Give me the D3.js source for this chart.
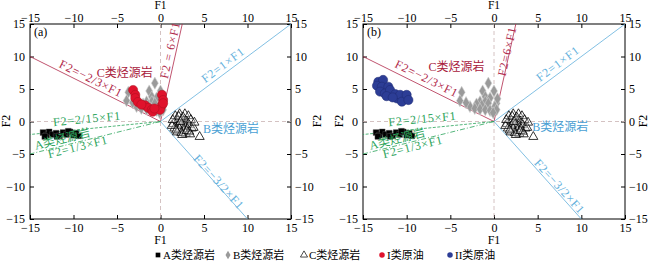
<!DOCTYPE html>
<html>
<head>
<meta charset="utf-8">
<script src="https://cdn.jsdelivr.net/npm/d3@7"></script>
<style>
  body { margin: 0; background: #fff; }
  svg { display: block; font-family: "Liberation Serif", "Noto Sans CJK SC", serif; }
</style>
</head>
<body>
<svg id="chart" width="650" height="262"></svg>
<script>
// ticks
const ticks = [-15, -10, -5, 0, 5, 10, 15]

// A类烃源岩 (squares)
const srcA = [[-13.5,-1.7],[-13.1,-2.1],[-12.8,-1.6],[-12.4,-2.0],[-12.0,-1.8],[-11.6,-2.2],[-11.2,-1.7],
  [-10.8,-2.0],[-10.4,-1.6],[-10.0,-2.1],[-9.7,-1.8],[-9.4,-2.2],[-11.9,-2.3],[-13.3,-2.3],[-10.6,-1.5]]
// B类烃源岩 (diamonds)
const srcB = [[-0.65,5.9],[-3.7,4.5],[-1.3,4.7],[0.0,4.7],[-1.0,3.8],[-0.45,3.6],[-3.9,3.2],[-1.6,3.05],
  [-1.0,3.05],[-2.0,2.7],[-1.4,2.5],[-0.65,2.8],[0.3,2.8],[-2.75,2.3],[-2.2,2.0],[-1.6,1.9],[-1.0,1.8],
  [-0.45,1.7],[0.1,2.3],[0.3,1.8],[-0.1,1.35],[-3.2,2.9],[0.4,3.5]]
// C类烃源岩 (triangles)
const srcC = [[1.7,1.0],[2.2,1.3],[2.8,1.3],[3.2,1.0],[2.0,0.3],[2.5,0.5],[3.0,0.2],[3.5,0.4],[1.5,-0.2],
  [2.0,-0.5],[2.4,-0.3],[2.8,-0.6],[3.3,-0.4],[1.6,-0.9],[2.2,-1.0],[2.7,-1.2],[3.1,-1.0],[3.6,-0.9],
  [1.9,-1.5],[2.4,-1.6],[2.9,-1.7],[3.3,-1.4],[3.8,-0.8],[4.5,-2.2],[2.1,0.9],[2.6,0.8],[1.3,-0.5],[3.9,0.0],
  [1.8,-1.2],[2.5,-1.9],[3.0,-1.3],[2.3,0.1],[3.4,-1.8],[1.4,0.4]]
// I类原油 (panel a)
const oilI = [[-3.15,4.85],[-2.9,4.1],[-2.9,3.6],[-2.6,3.0],[-1.8,2.5],[-1.4,2.1],[-1.0,1.8],[-0.9,1.5],
  [0.17,4.1],[0.3,3.3],[0.17,2.5],[-0.06,1.8],[0.3,2.8],[-2.2,2.6],[-0.7,2.0]]
// II类原油 (panel b)
const oilII = [[-13.25,6.1],[-12.7,6.4],[-13.4,5.5],[-12.85,5.35],[-12.1,5.35],[-13.05,4.6],[-12.5,4.3],
  [-11.9,4.85],[-11.3,4.2],[-11.1,3.55],[-10.75,4.1],[-10.55,3.05],[-10.0,4.1],[-9.8,3.3],[-12.3,3.9],[-11.6,3.7]]

// dividing lines: slope, F1 end
const lineSlopes = [-2/3, 6, 1, -3/2, 2/15, 1/3]
const lineEnds = [-15, 2.5, 15, 10, -15, -15]
const lineNames = ["F2=−2/3×F1", "F2 = 6×F1", "F2=1×F1", "F2=−3/2×F1", "F2=2/15×F1", "F2=1/3×F1"]

const legendNames = ["A类烃源岩", "B类烃源岩", "C类烃源岩", "I类原油", "II类原油"]

const red = "#b0284a", blue = "#62b0dc", green = "#2aa35a"
const lineStyle = [
  {c: red, dash: null}, {c: red, dash: null}, {c: blue, dash: null}, {c: blue, dash: null},
  {c: green, dash: "3,1.5"}, {c: green, dash: "5,2,1,2"}
]

const svg = d3.select("#chart")

const panels = [
  {tag: "(a)", x0: 30, x1: 291, oil: oilI, oilColor: "#e0122c", oilStroke: "#a8101e",
   names: lineNames,
   lab: [[-7.99,6.6],[1.1,11.0],[7.2,8.7],[6.7,-9.3],[-8.45,0.4],[-9.5,-3.9]],
   A: [-11.3,-2.7], B: [8.1,-1.15], C: [-4.1,7.5]},
  {tag: "(b)", x0: 363, x1: 625, oil: oilII, oilColor: "#2c3d96", oilStroke: "#1e2a70",
   names: ["F2=−2/3×F1", "F2=6×F1", "F2=1×F1", "F2=−3/2×F1", "F2=2/15×F1", "F2=1/3×F1"],
   lab: [[-7.7,6.6],[1.5,10.8],[7.3,8.9],[7.5,-10.0],[-8.2,0.4],[-9.3,-3.9]],
   A: [-11.1,-2.7], B: [7.6,-0.85], C: [-4.3,8.4]}
]

const yTop = 24, yBot = 219

panels.forEach(p => {
  const x = d3.scaleLinear().domain([-15, 15]).range([p.x0, p.x1])
  const y = d3.scaleLinear().domain([-15, 15]).range([yBot, yTop])
  const g = svg.append("g")
  const cx = (p.x0 + p.x1) / 2

  g.append("rect").attr("x", p.x0).attr("y", yTop).attr("width", p.x1 - p.x0).attr("height", yBot - yTop)
    .attr("fill", "none").attr("stroke", "#000").attr("stroke-width", 1)

  // axes
  const axes = [
    [d3.axisBottom(x), `translate(0,${yBot})`, 4],
    [d3.axisTop(x), `translate(0,${yTop})`, 2],
    [d3.axisLeft(y), `translate(${p.x0},0)`, 5],
    [d3.axisRight(y), `translate(${p.x1},0)`, 4]
  ]
  axes.forEach(([ax, tr, pad]) => {
    const a = g.append("g").attr("transform", tr)
      .call(ax.tickValues(ticks).tickSizeInner(-4).tickSizeOuter(0).tickPadding(pad).tickFormat(d3.format("d")))
    a.select(".domain").remove()
    a.selectAll("text").attr("font-size", 12).attr("font-family", "Liberation Serif").attr("fill", "#000")
  })

  g.append("text").attr("x", cx).attr("y", 9).attr("text-anchor", "middle").attr("font-size", 11.5).text("F1")
  g.append("text").attr("x", cx).attr("y", 244).attr("text-anchor", "middle").attr("font-size", 12).text("F1")
  g.append("text").attr("transform", `translate(${p.x0 - 20},121) rotate(-90)`)
    .attr("text-anchor", "middle").attr("font-size", 12).text("F2")
  g.append("text").attr("transform", `translate(${Math.min(p.x1 + 30, 647)},121) rotate(-90)`)
    .attr("text-anchor", "middle").attr("font-size", 12).text("F2")

  g.append("text").attr("x", p.x0 + 4).attr("y", yTop + 12).attr("font-size", 12).text(p.tag)

  // zero reference lines
  g.append("line").attr("x1", x(0)).attr("x2", x(0)).attr("y1", yTop).attr("y2", yBot)
    .attr("stroke", "#c9b3b3").attr("stroke-dasharray", "4,3").attr("stroke-width", 0.8)
  g.append("line").attr("x1", p.x0).attr("x2", p.x1).attr("y1", y(0)).attr("y2", y(0))
    .attr("stroke", "#c9b3b3").attr("stroke-dasharray", "4,3").attr("stroke-width", 0.8)

  // dividing lines
  lineSlopes.forEach((k, i) => {
    g.append("line").attr("x1", x(0)).attr("y1", y(0))
      .attr("x2", x(lineEnds[i])).attr("y2", y(k * lineEnds[i]))
      .attr("stroke", lineStyle[i].c).attr("stroke-width", 0.8)
      .attr("stroke-dasharray", lineStyle[i].dash)
  })

  // markers
  const sq = d3.symbol().type(d3.symbolSquare).size(34)
  const dia = d3.symbol().type(d3.symbolDiamond).size(42)
  const tri = d3.symbol().type(d3.symbolTriangle).size(36)

  g.append("g").selectAll("path").data(srcB).join("path")
    .attr("d", dia).attr("transform", d => `translate(${x(d[0])},${y(d[1])})`)
    .attr("fill", "#9a9a9a").attr("stroke", "#d0d0d0").attr("stroke-width", 0.6)
  g.append("g").selectAll("circle").data(p.oil).join("circle")
    .attr("cx", d => x(d[0])).attr("cy", d => y(d[1])).attr("r", 4.6)
    .attr("fill", p.oilColor).attr("stroke", p.oilStroke).attr("stroke-width", 0.5)
  g.append("g").selectAll("path").data(srcA).join("path")
    .attr("d", sq).attr("transform", d => `translate(${x(d[0])},${y(d[1])})`)
    .attr("fill", "#000").attr("stroke", "#555").attr("stroke-width", 0.4)
  g.append("g").selectAll("path").data(srcC).join("path")
    .attr("d", tri).attr("transform", d => `translate(${x(d[0])},${y(d[1]) + 1})`)
    .attr("fill", "#fff").attr("fill-opacity", 0.3).attr("stroke", "#000").attr("stroke-width", 0.8)

  // line labels, rotated along each line
  lineSlopes.forEach((k, i) => {
    const ang = Math.atan((y(k) - y(0)) / (x(1) - x(0))) * 180 / Math.PI
    const [lx, ly] = p.lab[i]
    g.append("text").attr("transform", `translate(${x(lx)},${y(ly)}) rotate(${ang})`)
      .attr("text-anchor", "middle").attr("dominant-baseline", "central")
      .attr("font-size", 12).attr("letter-spacing", 0.8)
      .attr("fill", lineStyle[i].c).text(p.names[i])
  })

  const angA = Math.atan((y(1/3) - y(0)) / (x(1) - x(0))) * 180 / Math.PI
  g.append("text").attr("transform", `translate(${x(p.A[0])},${y(p.A[1])}) rotate(${angA})`)
    .attr("text-anchor", "middle").attr("dominant-baseline", "central").attr("font-size", 12)
    .attr("fill", green).text(legendNames[0])
  g.append("text").attr("x", x(p.B[0])).attr("y", y(p.B[1]))
    .attr("text-anchor", "middle").attr("dominant-baseline", "central").attr("font-size", 12)
    .attr("fill", "#4a9fd4").text(legendNames[1])
  g.append("text").attr("x", x(p.C[0])).attr("y", y(p.C[1]))
    .attr("text-anchor", "middle").attr("dominant-baseline", "central").attr("font-size", 12)
    .attr("fill", "#a8203c").text(legendNames[2])
})

// legend
const legX = [158, 228, 304, 382, 450]
const leg = svg.append("g").attr("transform", "translate(0,255)")
const legSym = [
  d3.symbol().type(d3.symbolSquare).size(22),
  d3.symbol().type(d3.symbolDiamond).size(22),
  d3.symbol().type(d3.symbolTriangle).size(22),
  d3.symbol().type(d3.symbolCircle).size(24),
  d3.symbol().type(d3.symbolCircle).size(24)
]
const legFill = ["#000", "#9a9a9a", "#fff", "#e0122c", "#2c3d96"]
legendNames.forEach((n, i) => {
  leg.append("path").attr("d", legSym[i]).attr("transform", `translate(${legX[i]},0)`)
    .attr("fill", legFill[i]).attr("stroke", i === 2 ? "#000" : "none").attr("stroke-width", 0.7)
  leg.append("text").attr("x", legX[i] + 5).attr("y", 0).attr("dominant-baseline", "central")
    .attr("font-size", 11).text(n)
})
</script>
</body>
</html>
